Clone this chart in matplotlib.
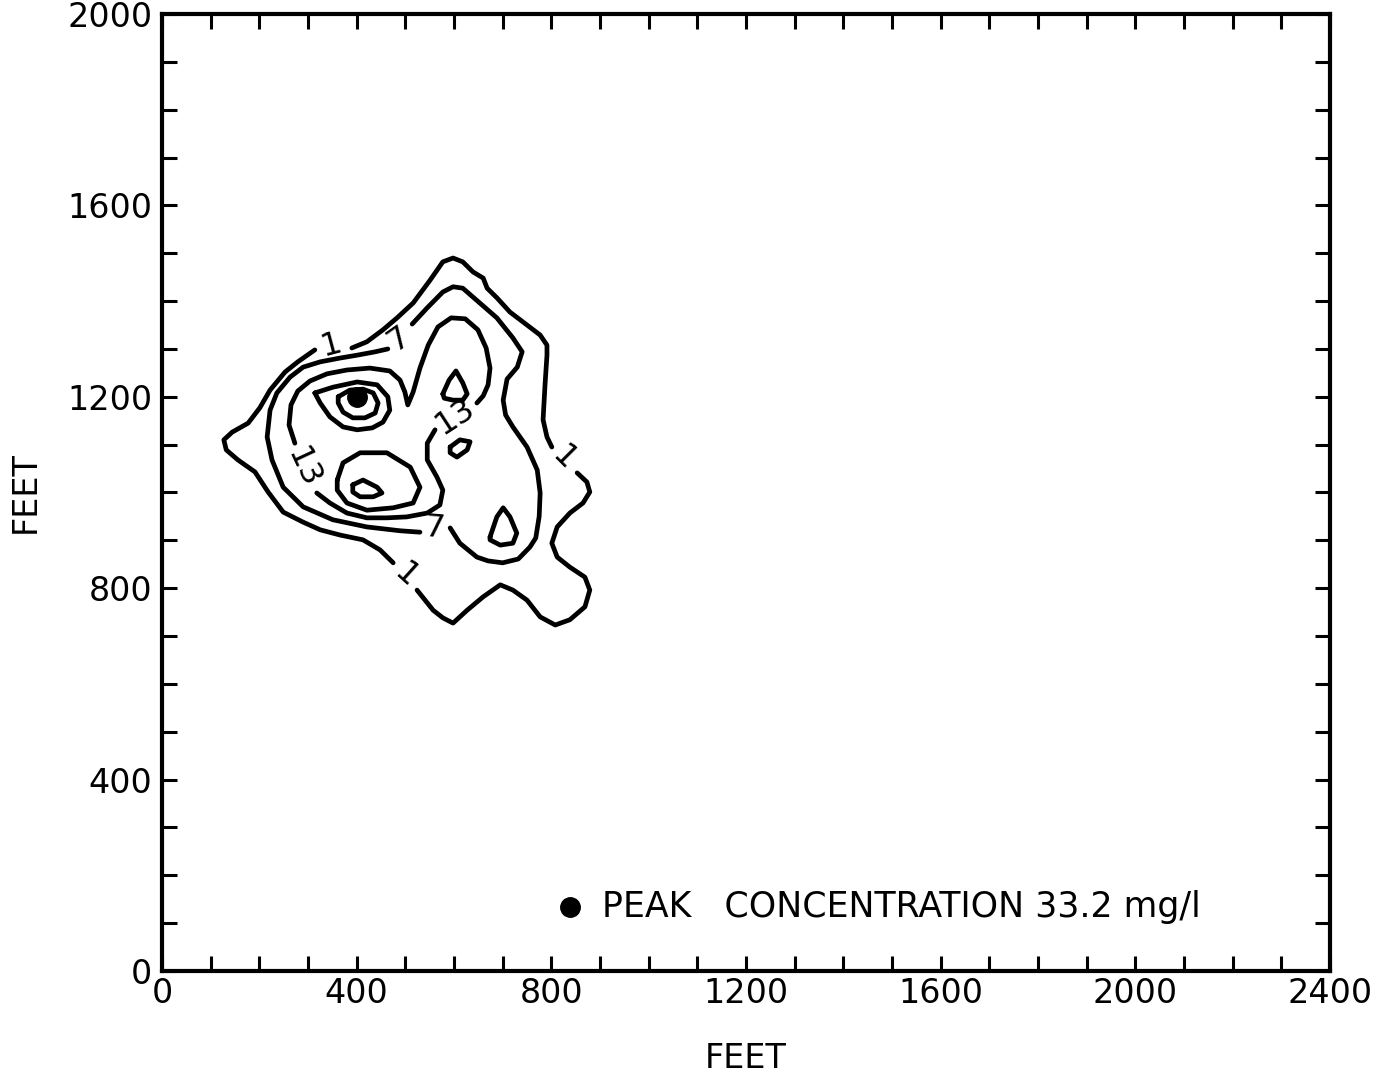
import matplotlib.pyplot as plt

plt.rcParams['font.family'] = ['DejaVu Sans']

# contour lines in feet, each level split into pieces where its labels sit
level_1 = [
    [(390, 1302), (421, 1315), (454, 1340), (483, 1365), (516, 1396), (551, 1444),
     (577, 1482), (598, 1490), (618, 1482), (639, 1461), (660, 1448), (668, 1427),
     (688, 1407), (715, 1377), (750, 1350), (777, 1329), (791, 1308), (791, 1287),
     (787, 1225), (783, 1152), (791, 1116), (801, 1095)],
    [(853, 1041), (873, 1022), (879, 1001), (865, 978), (838, 957), (812, 928),
     (801, 894), (812, 865), (838, 844), (869, 823), (879, 796), (869, 761),
     (838, 734), (808, 723), (777, 740), (750, 775), (721, 796), (695, 807),
     (660, 782), (627, 754), (598, 727), (577, 738), (557, 754), (524, 796)],
    [(475, 853), (448, 880), (413, 901), (366, 911), (325, 922), (290, 938),
     (249, 959), (218, 1001), (191, 1043), (156, 1068), (132, 1089), (127, 1110),
     (144, 1126), (177, 1145), (201, 1177), (222, 1214), (253, 1252), (279, 1273),
     (314, 1298)],
]
level_7 = [
    [(514, 1352), (545, 1386), (577, 1419), (598, 1430), (618, 1427), (653, 1396),
     (688, 1365), (721, 1323), (740, 1294), (730, 1262), (709, 1237), (701, 1193),
     (706, 1162), (721, 1137), (750, 1095), (771, 1047), (777, 999), (775, 950),
     (768, 905), (756, 886), (732, 861), (700, 853), (670, 857), (647, 865),
     (612, 894), (592, 926)],
    [(530, 917), (489, 920), (421, 928), (351, 943), (290, 970), (249, 1011),
     (226, 1068), (216, 1116), (222, 1172), (236, 1208), (263, 1241), (290, 1262),
     (325, 1273), (366, 1281), (401, 1287), (438, 1294), (464, 1300)],
]
level_13 = [
    [(273, 1103), (261, 1141), (265, 1183), (279, 1212), (304, 1233), (339, 1248),
     (380, 1256), (427, 1260), (468, 1254), (489, 1235), (499, 1210), (505, 1183),
     (516, 1210), (530, 1260), (547, 1308), (567, 1346), (594, 1365), (623, 1363),
     (649, 1340), (666, 1302), (674, 1260), (670, 1225), (660, 1202), (647, 1187)],
    [(561, 1131), (545, 1103), (545, 1068), (565, 1032), (577, 1005), (571, 974),
     (545, 957), (503, 949), (462, 947), (421, 947), (380, 957), (345, 978),
     (318, 999)],
]

# unlabelled closed rings inside the 13 contour
inner_rings = [
    [(314, 1208), (351, 1220), (401, 1231), (442, 1225), (464, 1200), (468, 1172),
     (454, 1147), (432, 1135), (401, 1131), (372, 1137), (345, 1158), (325, 1187)],
    [(362, 1200), (386, 1214), (413, 1216), (434, 1208), (444, 1187), (438, 1166),
     (417, 1156), (392, 1156), (372, 1168), (362, 1187)],
    [(360, 1026), (372, 1062), (407, 1083), (462, 1083), (510, 1053), (530, 1011),
     (516, 978), (475, 968), (421, 963), (380, 978), (360, 1005)],
    [(392, 1016), (413, 1026), (442, 1011), (452, 999), (434, 991), (407, 991),
     (392, 1001)],
    [(577, 1206), (590, 1235), (604, 1254), (618, 1229), (627, 1206), (618, 1193),
     (598, 1193), (580, 1197)],
    [(592, 1095), (612, 1110), (633, 1106), (627, 1089), (606, 1074), (592, 1083)],
    [(674, 907), (688, 949), (701, 968), (715, 949), (729, 915), (721, 894),
     (695, 890), (674, 901)],
]

# label positions (x, y, rotation) per level
labels_1 = [(347, 1308, 15), (826, 1072, -45), (501, 826, -42)]
labels_7 = [(487, 1321, 35), (559, 924, -5)]
labels_13 = [(602, 1158, 33), (290, 1051, -65)]

peak_x, peak_y = 400, 1200
peak_value = 33.2

levels = [(1, level_1, labels_1), (7, level_7, labels_7), (13, level_13, labels_13)]

fig = plt.figure(figsize=(13.86, 10.78), dpi=100)
ax = fig.add_axes([0.1169, 0.0993, 0.8427, 0.8877])

line_kw = dict(color='black', lw=3.4, solid_joinstyle='round', solid_capstyle='round')

for level, pieces, labels in levels:
    for piece in pieces:
        xs, ys = zip(*piece)
        ax.plot(xs, ys, **line_kw)
    for lx, ly, rot in labels:
        ax.text(lx, ly, str(level), fontsize=23, rotation=rot,
                rotation_mode='anchor', ha='center', va='center')

for ring in inner_rings:
    xs, ys = zip(*(ring + ring[:1]))
    ax.plot(xs, ys, **line_kw)

ax.plot(peak_x, peak_y, 'o', color='black', markersize=14)

# key in the lower right
ax.plot(0.349, 0.067, 'o', color='black', markersize=14, transform=ax.transAxes)
ax.text(0.377, 0.067, f'PEAK   CONCENTRATION {peak_value} mg/l', fontsize=25,
        transform=ax.transAxes, ha='left', va='center')

ax.set_xlim(0, 2400)
ax.set_ylim(0, 2000)
ax.set_xticks(range(0, 2401, 400))
ax.set_xticks(range(0, 2401, 100), minor=True)
ax.set_yticks(range(0, 2001, 400))
ax.set_yticks(range(0, 2001, 100), minor=True)
ax.tick_params(which='both', direction='in', top=True, right=True,
               length=11, width=2.2, labelsize=24)
ax.tick_params(axis='x', pad=4)
ax.tick_params(axis='y', pad=7)

for spine in ax.spines.values():
    spine.set_linewidth(3)

ax.set_xlabel('FEET', fontsize=24)
ax.set_ylabel('FEET', fontsize=24)
ax.xaxis.set_label_coords(0.5, -0.074)
ax.yaxis.set_label_coords(-0.103, 0.5)

fig.savefig('out.png', dpi=100)
